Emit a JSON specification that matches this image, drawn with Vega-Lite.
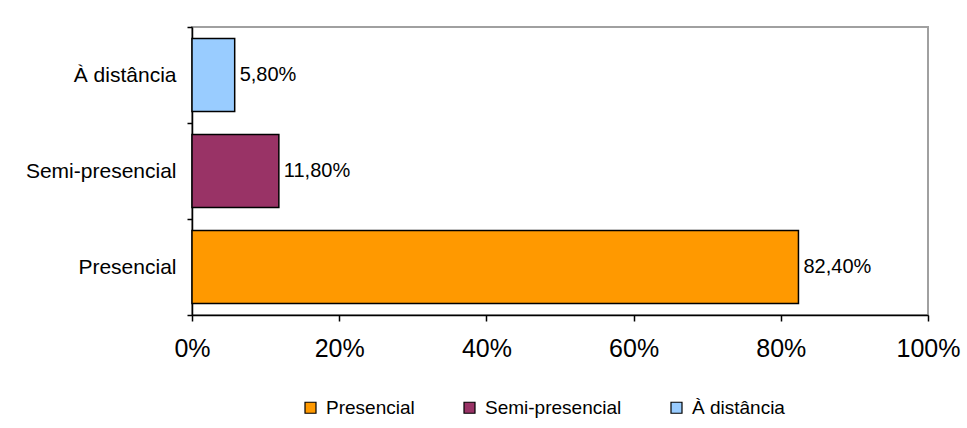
{
  "$schema": "https://vega.github.io/schema/vega-lite/v6.json",
  "width": 736,
  "height": 288,
  "autosize": {"type": "none"},
  "padding": {"left": 192, "top": 27, "right": 39, "bottom": 113},
  "background": "white",
  "data": {
    "values": [
      {"modalidade": "Presencial", "valor": 0.824},
      {"modalidade": "Semi-presencial", "valor": 0.118},
      {"modalidade": "À distância", "valor": 0.058}
    ]
  },
  "encoding": {
    "y": {
      "field": "modalidade",
      "type": "nominal",
      "sort": ["À distância", "Semi-presencial", "Presencial"],
      "scale": {"paddingInner": 0, "paddingOuter": 0},
      "axis": {
        "title": null,
        "domainColor": "black",
        "tickColor": "black",
        "tickSize": 5,
        "tickBand": "extent",
        "labelFontSize": 21,
        "labelColor": "black",
        "labelPadding": 11,
        "labelFont": "Liberation Sans"
      }
    },
    "x": {
      "field": "valor",
      "type": "quantitative",
      "scale": {"domain": [0, 1], "nice": false},
      "axis": {
        "title": null,
        "format": ".0%",
        "values": [0, 0.2, 0.4, 0.6, 0.8, 1],
        "grid": false,
        "labelFlush": false,
        "domainColor": "black",
        "tickColor": "black",
        "tickSize": 6,
        "labelFontSize": 25,
        "labelColor": "black",
        "labelPadding": 15,
        "labelFont": "Liberation Sans"
      }
    }
  },
  "layer": [
    {
      "mark": {"type": "bar", "stroke": "black", "strokeWidth": 1.5, "height": {"band": 0.76}},
      "encoding": {
        "color": {
          "field": "modalidade",
          "type": "nominal",
          "scale": {
            "domain": ["Presencial", "Semi-presencial", "À distância"],
            "range": ["#FF9900", "#993366", "#99CCFF"]
          },
          "legend": {
            "title": null,
            "orient": "none",
            "legendX": 109,
            "legendY": 371,
            "padding": 0,
            "direction": "horizontal",
            "symbolType": "square",
            "symbolSize": 121,
            "symbolStrokeColor": "black",
            "symbolStrokeWidth": 1.2,
            "labelFontSize": 19,
            "labelFont": "Liberation Sans",
            "labelColor": "black",
            "labelOffset": 6,
            "columnPadding": 45
          }
        }
      }
    },
    {
      "mark": {"type": "text", "align": "left", "dx": 5, "fontSize": 20, "font": "Liberation Sans", "color": "black"},
      "encoding": {
        "text": {"field": "valor", "type": "quantitative", "format": ".2%"}
      }
    }
  ],
  "config": {
    "locale": {
      "number": {"decimal": ",", "thousands": ".", "grouping": [3], "currency": ["R$", ""]}
    },
    "view": {"stroke": "#a0a0a0", "strokeWidth": 2},
    "axis": {"domainWidth": 1.5, "tickWidth": 1.5}
  }
}
